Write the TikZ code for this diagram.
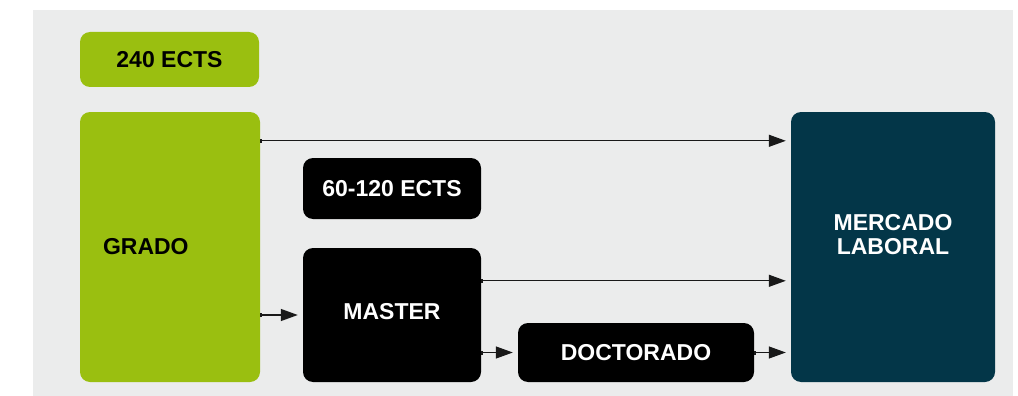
\documentclass[tikz,border=0pt]{standalone}
\usepackage{fontspec}
\setmainfont{Liberation Sans}
\usetikzlibrary{arrows.meta}
\definecolor{grgreen}{RGB}{154,191,16}
\definecolor{grgray}{RGB}{235,236,236}
\definecolor{grnavy}{RGB}{3,54,72}
\tikzset{
  box/.style={rounded corners=10pt, inner sep=0pt,
    font=\fontsize{23}{23.5}\selectfont\bfseries},
  greenbox/.style={box, fill=grgreen, text=black},
  blackbox/.style={box, fill=black, text=white},
  navybox/.style={box, fill=grnavy, text=white},
  arr/.style={line width=1.3pt, draw=black!90,
    {Bar[width=4pt]}-{Triangle[length=17pt,width=12pt]}, shorten >=5pt},
}

\begin{document}
\begin{tikzpicture}[x=1pt,y=-1pt]
  \useasboundingbox (0,0) rectangle (1018,396);
  \fill[grgray] (33,10) rectangle (1013,396);

  % grado
  \node[greenbox, minimum width=179pt, minimum height=55pt]
    (ects240) at (169.5,59.5) {240 ECTS};
  \node[greenbox, minimum height=270pt, text width=134pt,
    inner xsep=23pt, align=left] (grado) at (170,247) {GRADO};

  % master y doctorado
  \node[blackbox, minimum width=178pt, minimum height=61pt]
    (ects60) at (392,188.5) {60-120 ECTS};
  \node[blackbox, minimum width=178pt, minimum height=134pt,
    text depth=8pt] (master) at (392,315) {MASTER};
  \node[blackbox, minimum width=236pt, minimum height=59pt]
    (doctorado) at (636,352.5) {DOCTORADO};

  % mercado laboral
  \node[navybox, minimum width=204pt, minimum height=270pt]
    (mercado) at (893,247) {};
  \node[box, text=white, align=center] (mercadotxt)
    at ([yshift=12.5pt]mercado.center) {MERCADO\\LABORAL};

  \draw[arr] ([yshift=-29pt]grado.north east)
    -- ([yshift=-29pt]mercado.north west);
  \draw[arr] (master.west -| grado.east) -- (master.west);
  \draw[arr] ([yshift=-33pt]master.north east)
    -- ([yshift=-33pt]master.north east -| mercado.west);
  \draw[arr] (doctorado.west -| master.east) -- (doctorado.west);
  \draw[arr] (doctorado.east) -- (doctorado.east -| mercado.west);
\end{tikzpicture}
\end{document}
